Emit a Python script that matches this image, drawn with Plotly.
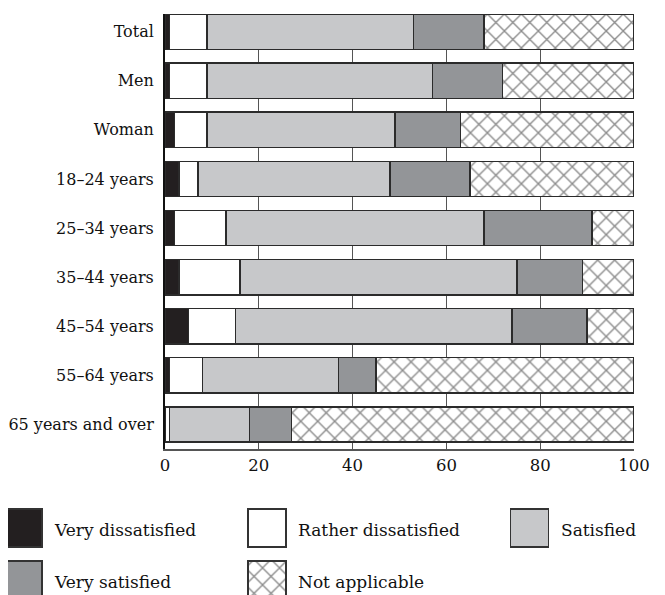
import plotly.graph_objects as go

categories = ["Total", "Men", "Woman", "18–24 years", "25–34 years", "35–44 years",
              "45–54 years", "55–64 years", "65 years and over"]
very_dissatisfied = [1, 1, 2, 3, 2, 3, 5, 1, 0]
rather_dissatisfied = [8, 8, 7, 4, 11, 13, 10, 7, 1]
satisfied = [44, 48, 40, 41, 55, 59, 59, 29, 17]
very_satisfied = [15, 15, 14, 17, 23, 14, 16, 8, 9]
not_applicable = [32, 28, 37, 35, 9, 11, 10, 55, 73]
x_ticks = [0, 20, 40, 60, 80, 100]

series = [
    ("Very dissatisfied", very_dissatisfied, "#231f20", ""),
    ("Rather dissatisfied", rather_dissatisfied, "#ffffff", ""),
    ("Satisfied", satisfied, "#c7c8ca", ""),
    ("Very satisfied", very_satisfied, "#939598", ""),
    ("Not applicable", not_applicable, "#ffffff", "x"),
]

FONT = "DejaVu Serif"
OFF = 8  # page body margin
W, H = 665 - OFF, 595 - OFF
outline = "#2b2b2b"
hatch = dict(shape="x", size=12, solidity=0.22, fgcolor="#1a1a1a", bgcolor="#ffffff", fillmode="overlay")

def px_x(p):
    return (p - OFF) / W

def px_y(p):
    return (H - (p - OFF)) / H

fig = go.Figure()
for name, vals, color, pat in series:
    marker = dict(color=color, line=dict(color=outline, width=1.5))
    if pat:
        marker["pattern"] = hatch
    fig.add_trace(go.Bar(y=categories, x=vals, orientation="h", name=name, marker=marker,
                         showlegend=False, hoverinfo="x+name"))

# custom legend on an auxiliary axis (page pixel coordinates)
leg_cols = [23, 267, 529.5]
leg_text_x = [52, 296, 559]
leg_rows = [509, 561]
positions = [(0, 0), (0, 1), (0, 2), (1, 0), (1, 1)]
for (name, vals, color, pat), (r, c) in zip(series, positions):
    marker = dict(color=color, line=dict(color="#333333", width=1.5))
    if pat:
        marker["pattern"] = hatch
    fig.add_trace(go.Bar(x=[leg_cols[c]], y=[38], base=[leg_rows[r]], width=[38],
                         marker=marker, xaxis="x2", yaxis="y2", showlegend=False, hoverinfo="skip"))
    fig.add_annotation(x=leg_text_x[c], y=leg_rows[r] + 21, xref="x2", yref="y2", text=name,
                       showarrow=False, xanchor="left", yanchor="middle",
                       font=dict(family=FONT, size=17, color="#111111"))

fig.update_layout(
    width=W, height=H,
    barmode="stack", bargap=0.28,
    margin=dict(l=0, r=0, t=0, b=0),
    paper_bgcolor="white", plot_bgcolor="white",
    font=dict(family=FONT, size=16, color="#111111"),
    xaxis=dict(domain=[px_x(165), px_x(634)], range=[0, 100], tickvals=x_ticks,
               showgrid=True, gridcolor="#555555", gridwidth=1.2,
               showline=True, linecolor="#555555", linewidth=1.5,
               ticks="", zeroline=False, tickfont=dict(family=FONT, size=16.5),
               automargin=False, fixedrange=True),
    yaxis=dict(domain=[px_y(449), px_y(14)], categoryorder="array", categoryarray=categories,
               range=[8.5, -0.36], showline=True, linecolor="#111111", linewidth=2,
               ticks="", showgrid=False, tickfont=dict(family=FONT, size=16),
               ticklabelstandoff=6, automargin=False, fixedrange=True),
    xaxis2=dict(domain=[0, 1], range=[OFF, OFF + W], visible=False, anchor="y2", fixedrange=True),
    yaxis2=dict(domain=[0, px_y(500)], range=[OFF + H, 500], visible=False, anchor="x2", fixedrange=True),
)

fig.write_html("out.html")
